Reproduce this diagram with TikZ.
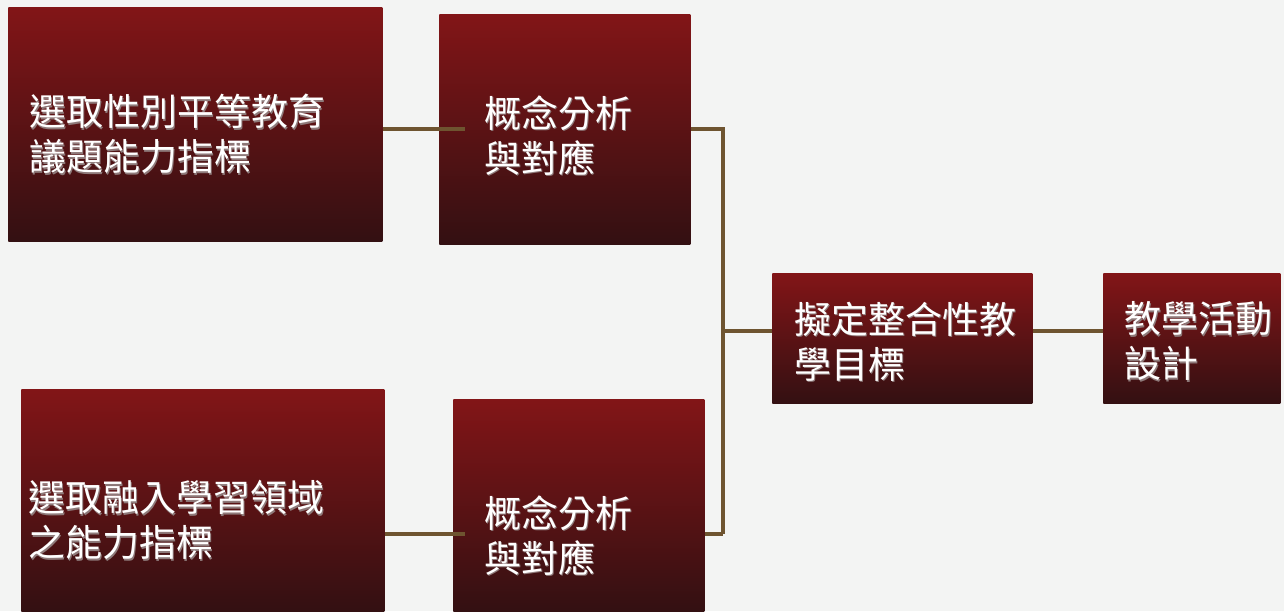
\documentclass[tikz,border=0pt]{standalone}
\usepackage{fontspec}
\newfontfamily\cjk{Noto Sans CJK TC}
\usetikzlibrary{calc}
\definecolor{bgc}{HTML}{F3F4F3}
\definecolor{boxtop}{HTML}{821517}
\definecolor{boxmid}{HTML}{660A0C}
\definecolor{boxbot}{HTML}{331012}
\definecolor{linec}{HTML}{6E5430}
\definecolor{shadowc}{HTML}{8E7A7A}
\newcommand\emb[1]{\makebox[0pt][l]{\hspace{0.4pt}\raisebox{-0.7pt}{\textcolor{shadowc}{#1}}}#1}
\tikzset{
  box/.style={rectangle, draw=none, inner sep=0pt, anchor=north west,
    top color=boxtop, middle color=boxmid, bottom color=boxbot},
  lbl/.style={anchor=west, inner sep=0pt, align=left, text=white,
    font=\cjk\fontsize{18.5pt}{22.5pt}\selectfont},
  conn/.style={draw=linec, line width=1.8pt}
}
\begin{document}
\begin{tikzpicture}[x=0.5pt,y=-0.5pt]
\fill[bgc] (0,0) rectangle (1284,611);
\useasboundingbox (0,0) rectangle (1284,611);
\begin{scope}
\clip (0,0) rectangle (1284,611);
\node[box, minimum width=187pt, minimum height=117pt] (A) at (8,7) {};
\node[box, minimum width=125.5pt, minimum height=115pt] (B) at (439,14) {};
\node[box, minimum width=181.5pt, minimum height=111pt] (C) at (21,389) {};
\node[box, minimum width=125.5pt, minimum height=106pt] (D) at (453,399) {};
\node[box, minimum width=130pt, minimum height=65pt] (E) at (772,273) {};
\node[box, minimum width=88.5pt, minimum height=65pt] (F) at (1103,273) {};

\coordinate (busT) at (723,129);
\coordinate (busM) at (723,331);
\coordinate (busB) at (723,534);
\coordinate (lowY) at (0,534);
\coordinate (midY) at (0,331);

\draw[conn] (A.east |- busT) -- ($(B.west |- busT)+(26,0)$);
\draw[conn] (B.east |- busT) -- (busT) -- (busB);
\draw[conn] (C.east |- lowY) -- ($(D.west |- lowY)+(12,0)$);
\draw[conn] (D.east |- lowY) -- (busB);
\draw[conn] (busM) -- (E.west |- midY);
\draw[conn] (E.east |- midY) -- (F.west |- midY);

\node[lbl] (tA) at (29,135) {\emb{選取性別平等教育}\\\emb{議題能力指標}};
\node[lbl] (tB) at (484,136) {\emb{概念分析}\\\emb{與對應}};
\node[lbl] (tC) at (28,521) {\emb{選取融入學習領域}\\\emb{之能力指標}};
\node[lbl] (tD) at (484,536) {\emb{概念分析}\\\emb{與對應}};
\node[lbl] (tE) at (794,342) {\emb{擬定整合性教}\\\emb{學目標}};
\node[lbl] (tF) at (1124,342) {\emb{教學活動}\\\emb{設計}};
\end{scope}
\end{tikzpicture}
\end{document}
